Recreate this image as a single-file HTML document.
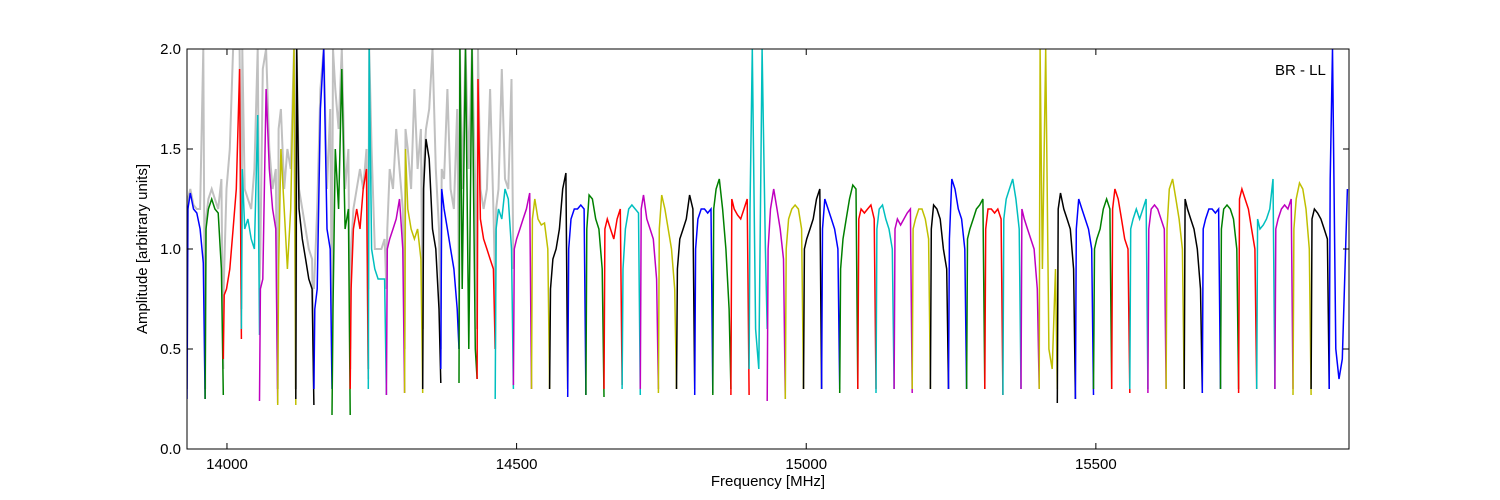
<!DOCTYPE html>
<html><head><meta charset="utf-8"><style>
html,body{margin:0;padding:0;background:#fff;}
svg{display:block;font-family:"Liberation Sans","DejaVu Sans",sans-serif;}
</style></head><body>
<svg id="chart" width="1500" height="500" viewBox="0 0 1500 500">
<defs><clipPath id="plotclip"><rect x="187" y="49" width="1162" height="400"/></clipPath></defs>
<rect x="0" y="0" width="1500" height="500" fill="#fff"/>
<g id="grey" clip-path="url(#plotclip)"></g>
<g id="series" clip-path="url(#plotclip)"></g>
<rect x="187" y="49" width="1162" height="400" fill="none" stroke="#000" stroke-width="1"/>
<g id="ticks"></g>
<text x="1275" y="75" font-size="15">BR - LL</text>
<text x="768" y="486" font-size="15" text-anchor="middle">Frequency [MHz]</text>
<text x="147" y="249" font-size="15" text-anchor="middle" transform="rotate(-90 147 249)">Amplitude [arbitrary units]</text>
</svg>
<script>
const xTicks = [14000, 14500, 15000, 15500];
const yTicks = [0.0, 0.5, 1.0, 1.5, 2.0];
const yTickLabels = ["0.0", "0.5", "1.0", "1.5", "2.0"];
const windowStart = 13931;
const windowWidth = 31.3;
const colors = ["#0000ff","#008000","#ff0000","#00bfbf","#bf00bf","#bfbf00","#000000"];
const windowVals = [
[0.25,1.2,1.28,1.2,1.18,1.1,0.93,0.25],
[0.25,1.1,1.2,1.25,1.2,1.18,0.9,0.27],
[0.45,0.77,0.8,0.9,1.1,1.3,1.9,0.55],
[0.6,1.4,1.1,1.15,1.05,1.0,1.67,0.57],
[0.24,0.8,0.85,1.8,1.4,1.2,1.1,0.23],
[0.22,0.9,1.5,1.2,0.9,1.2,2.0,0.22],
[0.25,2.0,1.2,1.05,0.95,0.85,0.8,0.22],
[0.3,0.7,0.8,1.7,2.0,1.1,1.0,0.3],
[0.17,0.7,1.5,1.2,1.9,1.1,1.2,0.17],
[0.3,0.8,1.1,1.2,1.1,1.3,1.4,0.35],
[0.3,2.0,1.0,0.9,0.85,0.85,0.85,0.27],
[0.27,1.0,1.05,1.1,1.15,1.25,1.0,0.28],
[0.28,1.5,1.2,1.1,1.05,1.1,0.95,0.28],
[0.3,1.3,1.55,1.45,1.1,1.0,0.7,0.33],
[0.4,1.3,1.2,1.1,1.0,0.9,0.7,0.5],
[0.33,2.0,0.8,2.0,0.5,2.0,0.5,0.35],
[0.35,1.85,1.15,1.05,1.0,0.95,0.9,0.5],
[0.25,1.1,1.2,1.15,1.3,1.25,1.0,0.3],
[0.32,1.0,1.05,1.1,1.15,1.2,1.28,0.3],
[0.3,1.15,1.25,1.15,1.12,1.13,1.0,0.3],
[0.3,0.8,0.95,1.0,1.1,1.3,1.38,0.3],
[0.26,1.0,1.15,1.2,1.2,1.22,1.2,0.27],
[0.27,1.1,1.27,1.25,1.15,1.1,0.9,0.26],
[0.3,1.1,1.15,1.1,1.05,1.15,1.2,0.32],
[0.3,0.9,1.1,1.2,1.22,1.2,1.18,0.27],
[0.3,1.2,1.27,1.15,1.1,1.05,0.85,0.3],
[0.28,1.1,1.27,1.2,1.1,1.0,0.8,0.3],
[0.3,0.9,1.05,1.1,1.15,1.27,1.2,0.3],
[0.27,1.0,1.15,1.2,1.2,1.18,1.2,0.28],
[0.27,1.2,1.3,1.35,1.2,1.0,0.7,0.3],
[0.27,1.25,1.2,1.17,1.15,1.2,1.25,0.27],
[0.4,1.2,2.0,0.6,0.4,2.0,1.0,0.6],
[0.24,1.0,1.2,1.3,1.2,1.1,0.95,0.25],
[0.25,1.0,1.15,1.2,1.22,1.2,1.1,0.3],
[0.3,1.0,1.05,1.1,1.15,1.25,1.3,0.3],
[0.3,1.1,1.25,1.2,1.15,1.1,1.0,0.3],
[0.28,0.9,1.05,1.15,1.25,1.32,1.3,0.3],
[0.3,1.15,1.2,1.18,1.2,1.22,1.15,0.3],
[0.28,1.1,1.2,1.22,1.15,1.1,1.0,0.3],
[0.3,1.1,1.15,1.12,1.15,1.18,1.2,0.28],
[0.3,1.1,1.15,1.2,1.2,1.15,1.05,0.3],
[0.3,1.1,1.22,1.2,1.15,1.0,0.9,0.3],
[0.3,1.05,1.35,1.3,1.2,1.15,1.0,0.3],
[0.3,1.05,1.1,1.15,1.2,1.22,1.25,0.3],
[0.3,1.1,1.2,1.2,1.18,1.2,1.15,0.27],
[0.27,1.15,1.25,1.3,1.35,1.25,1.1,0.3],
[0.3,1.2,1.15,1.1,1.05,1.0,0.8,0.3],
[0.3,2.0,0.9,2.0,0.5,0.4,0.9,0.3],
[0.23,1.2,1.28,1.2,1.15,1.1,0.9,0.25],
[0.25,1.1,1.25,1.2,1.15,1.1,1.0,0.27],
[0.3,1.0,1.05,1.1,1.2,1.25,1.2,0.3],
[0.3,1.2,1.3,1.25,1.15,1.05,1.0,0.28],
[0.3,1.1,1.15,1.2,1.15,1.2,1.25,0.3],
[0.28,1.1,1.2,1.22,1.2,1.15,1.1,0.3],
[0.3,1.1,1.3,1.35,1.25,1.15,1.0,0.3],
[0.3,1.25,1.2,1.15,1.1,1.0,0.8,0.28],
[0.28,1.1,1.15,1.2,1.2,1.18,1.2,0.3],
[0.3,1.1,1.2,1.22,1.2,1.15,1.0,0.3],
[0.28,1.25,1.3,1.25,1.2,1.1,1.0,0.3],
[0.3,1.15,1.1,1.12,1.15,1.2,1.35,0.3],
[0.3,1.1,1.15,1.2,1.22,1.2,1.25,0.3],
[0.27,1.1,1.25,1.33,1.3,1.2,1.0,0.27],
[0.3,1.15,1.2,1.18,1.15,1.1,1.05,0.3],
[0.3,1.35,2.0,0.5,0.35,0.45,1.0,1.3]
];
const greyVals = [
[0.3,1.25,1.3,1.22,1.2,1.2,2.0,0.3],
[0.3,1.15,1.25,1.3,1.25,1.2,1.35,0.4],
[0.7,0.9,1.3,1.5,2.0,2.0,2.0,0.8],
[0.7,2.0,1.3,1.25,1.2,1.4,2.0,0.9],
[0.8,1.0,1.9,2.0,1.5,1.3,1.4,0.3],
[0.3,1.6,1.7,1.3,1.5,1.4,2.0,0.3],
[0.3,2.0,1.3,1.2,1.1,1.0,0.95,0.3],
[0.8,0.9,1.2,1.8,2.0,1.3,1.7,0.6],
[0.8,2.0,1.8,1.6,2.0,1.3,1.5,0.4],
[0.5,1.0,1.2,1.3,1.4,1.3,1.5,0.4],
[0.8,2.0,1.5,1.0,1.0,1.0,1.05,0.8],
[0.8,1.1,1.4,1.3,1.6,1.4,1.2,0.5],
[0.5,1.6,1.5,1.3,1.8,1.4,1.6,0.6],
[0.6,1.4,1.6,1.7,2.0,1.4,1.1,0.5],
[0.7,1.4,1.35,1.8,1.3,1.2,1.7,0.8],
[0.5,2.0,1.3,2.0,1.4,2.0,1.3,0.6],
[0.9,2.0,1.3,1.2,1.3,1.8,1.2,0.8],
[0.5,1.2,1.3,1.9,1.35,1.3,1.85,0.9]
];
const fracs = [0,0.05,0.18,0.36,0.54,0.72,0.9,1];
const X0=187, X1=1349, Y0=449, Y1=49, FMIN=13931, FMAX=15937, AMAX=2.0;
function xs(f){return X0+(f-FMIN)/(FMAX-FMIN)*(X1-X0);}
function ys(v){return Y0-(v/AMAX)*(Y0-Y1);}
const NS="http://www.w3.org/2000/svg";
function winPath(vals,i){
  const f0=windowStart+i*windowWidth;
  return vals.map((v,k)=>(k?'L':'M')+xs(f0+fracs[k]*windowWidth).toFixed(1)+' '+ys(Math.min(v,2.05)).toFixed(1)).join(' ');
}
const gG=document.getElementById('grey');
greyVals.forEach((vals,i)=>{
  const p=document.createElementNS(NS,'path');
  p.setAttribute('d',winPath(vals,i));
  p.setAttribute('fill','none');p.setAttribute('stroke','#c0c0c0');p.setAttribute('stroke-width','2');
  
  
  gG.appendChild(p);
});
const sG=document.getElementById('series');
windowVals.forEach((vals,i)=>{
  const p=document.createElementNS(NS,'path');
  p.setAttribute('d',winPath(vals,i));
  p.setAttribute('fill','none');p.setAttribute('stroke',colors[i%7]);p.setAttribute('stroke-width','1.5');
  
  
  sG.appendChild(p);
});
const tG=document.getElementById('ticks');
function add(tag,attrs,txt){const e=document.createElementNS(NS,tag);for(const k in attrs)e.setAttribute(k,attrs[k]);if(txt!==undefined)e.textContent=txt;tG.appendChild(e);return e;}
xTicks.forEach(t=>{
  const x=xs(t);
  add('line',{x1:x,x2:x,y1:Y0,y2:Y0-6,stroke:'#000'});
  add('line',{x1:x,x2:x,y1:Y1,y2:Y1+6,stroke:'#000'});
  const e=add('text',{x:x,y:Y0+20,'font-size':15,'text-anchor':'middle'},String(t));
  
  
});
yTicks.forEach((t,i)=>{
  const y=ys(t);
  add('line',{x1:X0,x2:X0+6,y1:y,y2:y,stroke:'#000'});
  add('line',{x1:X1,x2:X1-6,y1:y,y2:y,stroke:'#000'});
  const e=add('text',{x:X0-6,y:y+5,'font-size':15,'text-anchor':'end'},yTickLabels[i]);
  
  
});
</script>
</body></html>
